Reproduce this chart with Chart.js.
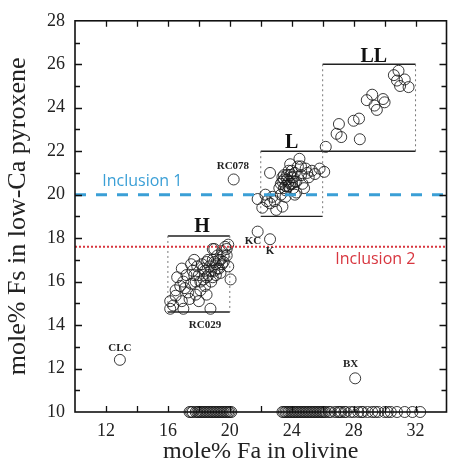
<!DOCTYPE html>
<html>
<head>
<meta charset="utf-8">
<script src="https://cdn.jsdelivr.net/npm/chart.js@4/dist/chart.umd.min.js"></script>
<style>
  html, body { margin: 0; padding: 0; background: #fff; }
</style>
</head>
<body>
<canvas id="chart" width="453" height="467"></canvas>
<script>
// mole% Fa in olivine vs mole% Fs in low-Ca pyroxene
const hGroup = [
  [16.15, 14.75], [16.35, 14.9], [16.15, 15.1], [16.5, 15.35], [16.5, 15.6], [17.0, 14.75],
  [16.6, 16.2], [16.9, 15.1], [16.8, 15.8], [17.0, 16.0], [17.3, 15.5], [17.5, 15.9],
  [17.2, 16.3], [17.6, 16.5], [17.8, 16.0], [17.9, 16.7], [18.0, 16.3], [18.1, 15.6],
  [18.2, 16.8], [18.3, 16.1], [18.4, 16.5], [18.5, 16.9], [18.6, 16.3], [18.7, 16.7],
  [18.8, 16.0], [18.9, 17.0], [19.0, 16.5], [19.1, 16.8], [19.2, 17.2], [19.3, 16.6],
  [19.4, 17.0], [19.5, 17.4], [19.6, 16.9], [19.7, 17.6], [19.8, 17.2], [19.9, 17.7],
  [18.9, 17.5], [19.9, 16.7], [20.05, 16.1], [17.7, 17.0], [18.0, 15.1], [18.5, 15.4],
  [17.5, 16.8], [19.0, 17.5], [18.75, 14.75],
  [18.1, 16.0], [18.3, 16.6], [18.5, 16.2], [18.6, 17.0], [18.8, 16.5], [18.9, 16.2],
  [19.0, 16.9], [19.1, 16.3], [19.2, 16.6], [19.3, 17.0], [19.4, 16.4], [19.5, 16.8],
  [18.4, 15.8], [17.8, 15.4], [17.4, 15.2], [17.7, 16.3], [19.6, 17.2], [19.8, 17.5],
  [16.9, 16.6], [17.1, 15.7]
];
const lGroup = [
  [21.8, 19.8], [22.1, 19.4], [22.3, 20.0], [22.6, 19.6], [22.75, 19.9], [23.0, 19.3],
  [23.4, 19.45], [23.6, 19.9], [24.2, 20.0], [22.6, 21.0], [23.2, 20.3], [23.4, 20.6],
  [23.5, 20.9], [23.6, 20.4], [23.7, 20.7], [23.8, 21.1], [23.9, 20.5], [24.0, 20.8],
  [24.1, 20.3], [24.2, 21.0], [24.3, 20.6], [24.4, 21.3], [24.5, 21.65], [24.6, 20.9],
  [24.7, 20.5], [24.9, 21.2], [25.1, 20.8], [25.3, 21.1], [25.5, 20.95], [25.8, 21.2],
  [26.1, 21.05], [23.9, 21.4], [24.3, 20.1], [23.3, 20.0], [24.8, 20.3],
  [23.3, 20.5], [23.5, 20.7], [23.6, 20.2], [23.7, 20.9], [23.8, 20.4], [23.9, 20.9],
  [24.0, 20.5], [24.1, 20.8], [23.5, 20.3], [23.8, 20.6], [24.2, 20.6], [23.4, 20.8],
  [24.0, 21.1], [22.4, 19.7], [22.9, 19.7], [24.6, 21.3], [25.0, 21.0]
];
const llGroup = [
  [26.2, 22.2], [26.9, 22.8], [27.05, 23.25], [27.2, 22.65], [28.0, 23.4], [28.35, 23.5],
  [28.4, 22.55], [28.85, 24.35], [29.2, 24.6], [29.35, 24.1], [29.5, 23.9], [29.9, 24.4],
  [30.0, 24.25], [30.6, 25.5], [30.9, 25.7], [31.0, 25.0], [31.55, 24.95], [30.8, 25.25],
  [31.3, 25.3]
];
const otherPoints = [
  [12.9, 12.4], [28.1, 11.55], [20.25, 20.7], [21.8, 18.3], [22.6, 17.95]
];
// olivine only, plotted on the lower axis
const faOnly = [
  17.4, 17.5, 17.6, 17.8, 17.9, 18.0, 18.1, 18.2, 18.3, 18.4, 18.5, 18.6, 18.7, 18.8,
  18.9, 19.0, 19.1, 19.2, 19.3, 19.4, 19.5, 19.6, 19.7, 19.8, 19.9, 20.0, 20.1,
  23.4, 23.5, 23.6, 23.7, 23.8, 23.9, 24.0, 24.1, 24.2, 24.3, 24.4, 24.5, 24.6, 24.7,
  24.8, 24.9, 25.0, 25.1, 25.2, 25.3, 25.4, 25.5, 25.6, 25.7, 25.8, 25.9, 26.0, 26.1,
  26.2, 26.4, 26.5, 26.8, 27.0, 27.1, 27.2, 27.4, 27.5, 27.8, 28.0, 28.3, 28.5, 28.6,
  28.9, 29.2, 29.4, 29.6, 30.0, 30.2, 30.4, 30.8, 31.3, 31.8, 32.3
];

const xTickLabels = [12, 16, 20, 24, 28, 32];
const yTickLabels = [10, 12, 14, 16, 18, 20, 22, 24, 26, 28];

const boxNames = ['H', 'L', 'LL'];
const boxFa = [[16, 20], [22, 26], [26, 32]];
const boxFs = [[14.6, 18.1], [19, 22], [22, 26]];
const boxNameAt = [[18.2, 18.5], [24.0, 22.4], [29.3, 26.35]];

const pointNames = ['CLC', 'BX', 'RC029', 'RC078', 'KC', 'K'];
const pointNameAt = [[12.9, 12.95], [27.8, 12.2], [18.4, 14.0], [20.2, 21.3], [21.5, 17.85], [22.6, 17.4]];

const inclusionNames = ['Inclusion 1', 'Inclusion 2'];
const inclusionFs = [20, 17.6];
const inclusionNameAt = [[14.35, 20.6], [29.4, 17.04]];

const blue = '#3a9fd6';
const red = '#d8363f';
const serif = '"Liberation Serif", "Times New Roman", serif';

const toXY = arr => arr.map(p => ({ x: p[0], y: p[1] }));

const circleStyle = {
  type: 'scatter',
  pointStyle: 'circle',
  pointRadius: 5.5,
  pointBorderWidth: 1,
  pointBorderColor: 'rgba(25,25,25,0.85)',
  pointBackgroundColor: 'rgba(0,0,0,0)',
  clip: 8
};

const decorations = {
  id: 'decorations',
  beforeDatasetsDraw(chart) {
    const { ctx, scales: { x, y } } = chart;
    ctx.save();
    boxNames.forEach((name, i) => {
      const l = x.getPixelForValue(boxFa[i][0]), r = x.getPixelForValue(boxFa[i][1]);
      const b = y.getPixelForValue(boxFs[i][0]), t = y.getPixelForValue(boxFs[i][1]);
      ctx.strokeStyle = '#222';
      ctx.lineWidth = 1.4;
      ctx.setLineDash([]);
      ctx.beginPath();
      ctx.moveTo(l, t); ctx.lineTo(r, t);
      ctx.moveTo(l, b); ctx.lineTo(r, b);
      ctx.stroke();
      ctx.strokeStyle = '#777';
      ctx.lineWidth = 1;
      ctx.setLineDash([2, 3]);
      ctx.beginPath();
      ctx.moveTo(l, t); ctx.lineTo(l, b);
      ctx.moveTo(r, t); ctx.lineTo(r, b);
      ctx.stroke();
    });
    ctx.restore();
  },
  afterDatasetsDraw(chart) {
    const { ctx, scales: { x, y } } = chart;
    ctx.save();
    ctx.textAlign = 'center';
    ctx.textBaseline = 'middle';
    ctx.fillStyle = '#111';
    ctx.font = 'bold 20px ' + serif;
    boxNames.forEach((name, i) => {
      ctx.fillText(name, x.getPixelForValue(boxNameAt[i][0]), y.getPixelForValue(boxNameAt[i][1]));
    });
    ctx.fillStyle = '#222';
    ctx.font = 'bold 11px ' + serif;
    pointNames.forEach((name, i) => {
      ctx.fillText(name, x.getPixelForValue(pointNameAt[i][0]), y.getPixelForValue(pointNameAt[i][1]));
    });
    ctx.font = '16px "Open Sans", sans-serif';
    [blue, red].forEach((c, i) => {
      ctx.fillStyle = c;
      ctx.fillText(inclusionNames[i], x.getPixelForValue(inclusionNameAt[i][0]), y.getPixelForValue(inclusionNameAt[i][1]));
    });
    ctx.restore();
  },
  afterDraw(chart) {
    const { ctx, chartArea: a, scales: { x, y } } = chart;
    ctx.save();
    ctx.strokeStyle = '#111';
    ctx.lineWidth = 1.3;
    ctx.beginPath();
    // inward tick marks on all four sides
    x.ticks.forEach(t => {
      if (t.value <= x.min || t.value >= x.max) return;
      const px = Math.round(x.getPixelForValue(t.value)) + 0.5;
      ctx.moveTo(px, a.bottom); ctx.lineTo(px, a.bottom - 6);
      ctx.moveTo(px, a.top); ctx.lineTo(px, a.top + 6);
    });
    y.ticks.forEach(t => {
      if (t.value <= y.min || t.value >= y.max) return;
      const py = Math.round(y.getPixelForValue(t.value)) + 0.5;
      const len = t.value % 2 === 0 ? 7 : 5;
      ctx.moveTo(a.left, py); ctx.lineTo(a.left + len, py);
      ctx.moveTo(a.right, py); ctx.lineTo(a.right - len, py);
    });
    ctx.stroke();
    ctx.lineWidth = 1.6;
    ctx.strokeRect(a.left, a.top, a.right - a.left, a.bottom - a.top);
    ctx.restore();
  }
};

new Chart(document.getElementById('chart'), {
  data: {
    datasets: [
      {
        type: 'line',
        data: [{ x: 10, y: inclusionFs[0] }, { x: 34, y: inclusionFs[0] }],
        borderColor: blue,
        borderWidth: 3,
        borderDash: [11, 10],
        pointRadius: 0
      },
      {
        type: 'line',
        data: [{ x: 10, y: inclusionFs[1] }, { x: 34, y: inclusionFs[1] }],
        borderColor: red,
        borderWidth: 2,
        borderDash: [2, 2],
        pointRadius: 0
      },
      { ...circleStyle, data: toXY(hGroup) },
      { ...circleStyle, data: toXY(lGroup) },
      { ...circleStyle, data: toXY(llGroup) },
      { ...circleStyle, data: toXY(otherPoints) },
      { ...circleStyle, data: faOnly.map(v => ({ x: v, y: 10 })) }
    ]
  },
  options: {
    responsive: false,
    animation: false,
    layout: { padding: { top: 18, right: 3, left: 0, bottom: 0 } },
    plugins: { legend: { display: false }, tooltip: { enabled: false } },
    scales: {
      x: {
        type: 'linear',
        min: 10,
        max: 34,
        grid: { display: false, drawTicks: false },
        border: { display: false },
        ticks: {
          stepSize: 2,
          autoSkip: false,
          maxRotation: 0,
          padding: 8,
          color: '#222',
          font: { family: serif, size: 18 },
          callback: v => xTickLabels.includes(v) ? String(v) : ''
        },
        title: {
          display: true,
          text: 'mole% Fa in olivine',
          color: '#222',
          font: { family: serif, size: 24 },
          padding: { top: 0, bottom: 1 }
        },
        afterFit: s => { s.height = 55; s.paddingLeft = 0; s.paddingRight = 0; }
      },
      y: {
        type: 'linear',
        min: 10,
        max: 28,
        grid: { display: false, drawTicks: false },
        border: { display: false },
        ticks: {
          stepSize: 1,
          autoSkip: false,
          padding: 10,
          color: '#222',
          font: { family: serif, size: 18 },
          callback: v => yTickLabels.includes(v) ? String(v) : ''
        },
        title: {
          display: true,
          text: 'mole% Fs in low-Ca pyroxene',
          color: '#222',
          font: { family: serif, size: 26 },
          padding: { top: 3, bottom: 0 }
        },
        afterFit: s => { s.width = 75; }
      }
    }
  },
  plugins: [decorations]
});
</script>
</body>
</html>
